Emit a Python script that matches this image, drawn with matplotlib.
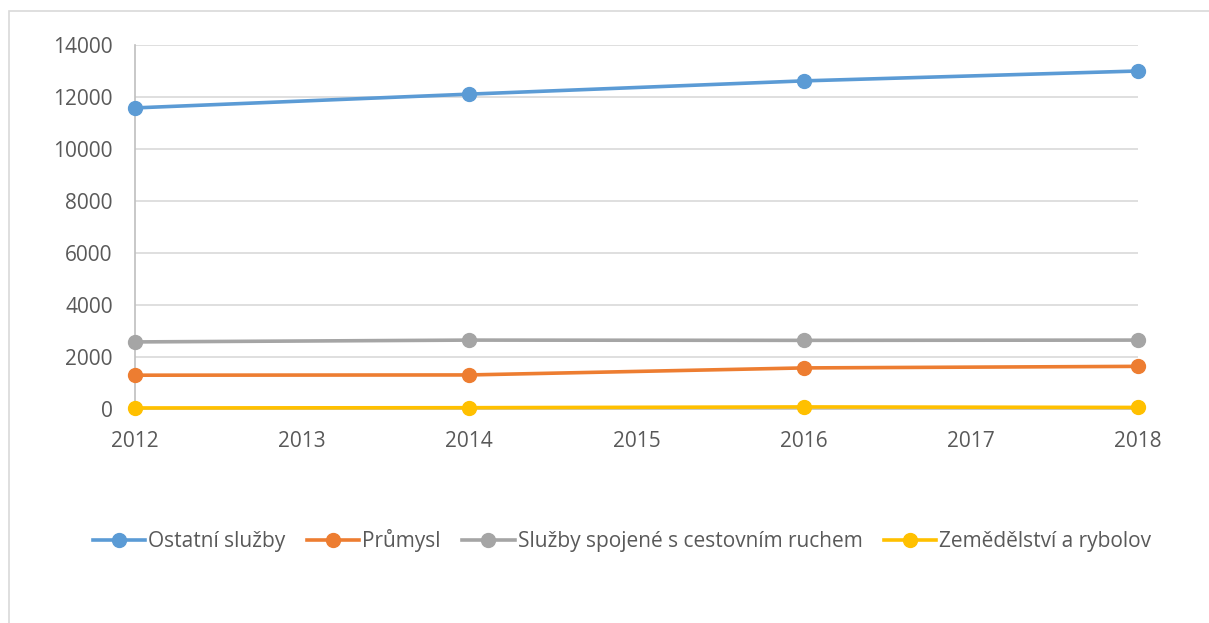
import matplotlib.pyplot as plt
from matplotlib.patches import Rectangle

years = [2012, 2014, 2016, 2018]
ostatni_sluzby = [11580, 12110, 12620, 13000]
prumysl = [1300, 1310, 1580, 1640]
cestovni_ruch = [2580, 2650, 2640, 2650]
zemedelstvi = [40, 50, 80, 60]

series = [
    ("Ostatní služby", ostatni_sluzby, "#5B9BD5"),
    ("Průmysl", prumysl, "#ED7D31"),
    ("Služby spojené s cestovním ruchem", cestovni_ruch, "#A5A5A5"),
    ("Zemědělství a rybolov", zemedelstvi, "#FFC000"),
]

text_color = "#595959"
plt.rcParams["font.family"] = ["Open Sans", "DejaVu Sans"]

fig = plt.figure(figsize=(12.09, 6.23), dpi=100)
# chart border (Excel style, cut off on the right and bottom)
fig.patches.append(Rectangle((9 / 1209, -0.1), 1.2, 1 - 11 / 623 + 0.1,
                             transform=fig.transFigure, fill=False,
                             edgecolor="#D9D9D9", linewidth=1.2))

ax = fig.add_axes([135 / 1209, 1 - 409 / 623, (1138 - 135) / 1209, (409 - 45) / 623])

for label, values, color in series:
    ax.plot(years, values, color=color, linewidth=2.6, marker="o",
            markersize=10, label=label, clip_on=False, zorder=3)

ax.set_xlim(2012, 2018)
ax.set_ylim(0, 14000)
ax.set_yticks(range(0, 14001, 2000))
ax.set_xticks(range(2012, 2019))
ax.grid(axis="y", color="#D9D9D9", linewidth=1.2)
ax.set_axisbelow(True)

for side in ["top", "right"]:
    ax.spines[side].set_visible(False)
for side in ["left", "bottom"]:
    ax.spines[side].set_color("#BFBFBF")
    ax.spines[side].set_linewidth(1.2)

ax.tick_params(length=0, labelsize=15, colors=text_color)
ax.tick_params(axis="x", pad=16)
ax.tick_params(axis="y", pad=16)

fig.legend(loc="center", bbox_to_anchor=(622 / 1209, 1 - 541 / 623), ncol=4,
           frameon=False, fontsize=15, labelcolor=text_color,
           handlelength=2.5, handletextpad=0.15, columnspacing=1.05)

fig.savefig("out.png", dpi=100)
